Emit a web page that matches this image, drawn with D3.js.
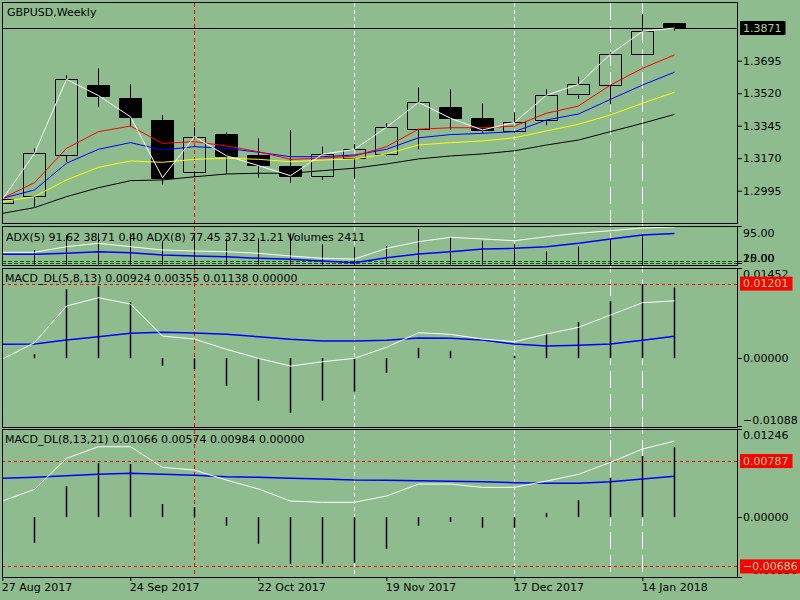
<!DOCTYPE html>
<html>
<head>
<meta charset="utf-8">
<script src="https://cdn.jsdelivr.net/npm/d3@7"></script>
<style>
  body { margin: 0; background: #8fbc8f; }
  svg { display: block; font-family: "DejaVu Sans", sans-serif; font-size: 11px; }
</style>
</head>
<body>
<div class="diagram"></div>
<script>
// weekly bars, GBPUSD
const weeks = ["2017-08-27","2017-09-03","2017-09-10","2017-09-17","2017-09-24","2017-10-01",
  "2017-10-08","2017-10-15","2017-10-22","2017-10-29","2017-11-05","2017-11-12","2017-11-19",
  "2017-11-26","2017-12-03","2017-12-10","2017-12-17","2017-12-24","2017-12-31","2018-01-07",
  "2018-01-14","2018-01-21"];
const openP  = [1.2927,1.2963,1.3186,1.3564,1.3493,1.3376,1.3097,1.3300,1.3186,1.3128,1.3070,
  1.3167,1.3191,1.3326,1.3444,1.3385,1.3315,1.3376,1.3514,1.3563,1.3731,1.3896];
const highP  = [1.2959,1.3223,1.3618,1.3654,1.3570,1.3403,1.3336,1.3309,1.3277,1.3322,1.3232,
  1.3246,1.3358,1.3552,1.3541,1.3466,1.3417,1.3541,1.3609,1.3743,1.3946,1.3896];
const lowP   = [1.2923,1.2909,1.3151,1.3447,1.3340,1.3029,1.3070,1.3085,1.3065,1.3038,1.3053,
  1.3060,1.3182,1.3218,1.3322,1.3304,1.3307,1.3347,1.3490,1.3460,1.3728,1.3857];
const closeP = [1.2949,1.3196,1.3595,1.3507,1.3393,1.3065,1.3286,1.3183,1.3130,1.3076,1.3191,
  1.3218,1.3336,1.3471,1.3385,1.3322,1.3363,1.3509,1.3568,1.3731,1.3853,1.3871];

// moving averages
const maRed    = [1.2954,1.3038,1.3223,1.3313,1.3343,1.3250,1.3259,1.3236,1.3205,1.3164,1.3170,
  1.3182,1.3232,1.3326,1.3334,1.3334,1.3343,1.3412,1.3451,1.3564,1.3654,1.3726];
const maBlue   = [1.2954,1.2999,1.3143,1.3218,1.3254,1.3214,1.3232,1.3223,1.3202,1.3178,1.3178,
  1.3187,1.3218,1.3280,1.3297,1.3304,1.3313,1.3376,1.3408,1.3487,1.3564,1.3633];
const maYellow = [1.2936,1.2963,1.3053,1.3121,1.3155,1.3148,1.3164,1.3170,1.3164,1.3151,1.3160,
  1.3166,1.3193,1.3241,1.3254,1.3263,1.3280,1.3317,1.3353,1.3403,1.3466,1.3525];
const maBlack  = [1.2873,1.2904,1.2963,1.3011,1.3049,1.3053,1.3070,1.3085,1.3089,1.3089,1.3103,
  1.3116,1.3139,1.3166,1.3182,1.3193,1.3210,1.3241,1.3268,1.3313,1.3358,1.3406];

// ADX / volumes panel
const volumes = [12000,15800,31500,33600,33300,25500,33600,28000,28000,33300,22100,18600,20000,
  37800,29700,25500,22100,14700,20000,28000,32300,2411];
const adx5 = [37.7,37.7,49.6,56.8,49.6,42.6,40.4,38.9,35.5,29.8,24.9,23.4,46.0,60.2,69.6,66.0,
  62.3,70.9,78.1,83.6,89.4,91.62];
const adx8 = [33.4,33.4,35.5,38.9,36.8,31.9,29.8,28.3,24.9,22.8,19.1,15.5,26.0,34.0,38.9,44.7,
  46.2,49.6,56.8,66.0,74.5,77.45];
const adxLevels = [20, 15];
const adxTicks = [95, 20, 15];

// MACD_DL(5,8,13)
const macd1Main   = [-0.00011,0.00251,0.00841,0.00974,0.00873,0.00358,0.00310,0.00145,0.00000,
  -0.00124,-0.00055,0.00000,0.00177,0.00411,0.00386,0.00310,0.00267,0.00391,0.00498,0.00696,0.00894,0.00924];
const macd1Signal = [0.00225,0.00230,0.00294,0.00347,0.00402,0.00418,0.00407,0.00386,0.00347,
  0.00305,0.00278,0.00278,0.00289,0.00326,0.00321,0.00294,0.00230,0.00198,0.00209,0.00230,0.00289,0.00355];
const macd1Hist   = [0.00000,0.00064,0.01109,0.01167,0.00900,-0.00124,-0.00172,-0.00440,-0.00681,
  -0.00874,-0.00681,-0.00537,-0.00231,0.00170,0.00122,0.00000,0.00040,0.00391,0.00583,0.00921,0.01194,0.01138];
const macd1Levels = [0.01201];
const macd1Ticks = [0.01452, 0, -0.01088];

// MACD_DL(8,13,21)
const macd2Main   = [0.00228,0.00391,0.00825,0.00987,0.00987,0.00699,0.00661,0.00521,0.00396,
  0.00228,0.00210,0.00210,0.00298,0.00465,0.00465,0.00419,0.00419,0.00507,0.00601,0.00769,0.00955,0.01066];
const macd2Signal = [0.00545,0.00559,0.00581,0.00601,0.00615,0.00601,0.00587,0.00568,0.00559,
  0.00545,0.00535,0.00521,0.00517,0.00512,0.00503,0.00498,0.00484,0.00475,0.00475,0.00498,0.00535,0.00574];
const macd2Hist   = [0.00000,-0.00355,0.00438,0.00763,0.00745,0.00186,0.00140,-0.00117,-0.00369,
  -0.00649,-0.00649,-0.00635,-0.00443,-0.00117,-0.00062,-0.00145,-0.00145,0.00064,0.00242,0.00554,0.00857,0.00984];
const macd2Levels = [0.00787, -0.00686];
const macd2Ticks = [0.01246, 0, -0.00830];

const priceTicks = [1.2995, 1.3170, 1.3345, 1.3520, 1.3695];
const dateTicks = ["2017-08-27","2017-09-24","2017-10-22","2017-11-19","2017-12-17","2018-01-14"];
const redVLines = ["2017-10-08"];
const whiteShortVLines = ["2017-11-12","2017-12-17"];
const whiteLongVLines = ["2018-01-07","2018-01-14"];

const adxTitle = "ADX(5) 91.62 38.71 0.40 ADX(8) 77.45 37.32 1.21 Volumes 2411";

const BG = "#8fbc8f", LABEL_TXT = "#a6d6a0";
const left = 2, right = 737;
const panels = {
  main:  {top: 2,     bottom: 223},
  adx:   {top: 226,   bottom: 265},
  macd1: {top: 267.5, bottom: 426.5},
  macd2: {top: 428.5, bottom: 576.5}
};

const parseTime = d3.timeParse("%Y-%m-%d");
const dates = weeks.map(parseTime);
const idx = d3.range(dates.length);
const f5 = d3.format(".5f");

const svg = d3.select(".diagram")
  .append("svg")
    .attr("width", 800)
    .attr("height", 600);

svg.append("rect").attr("width", 800).attr("height", 600).attr("fill", BG);

// X scale: one week = 32px
const x = d3.scaleTime()
  .domain([dates[0], dates[dates.length - 1]])
  .range([2.3, 674.3]);
const cx = i => Math.round(x(dates[i])) + 0.5;

// Y scales
const y = d3.scaleLinear().domain([1.2995, 1.3695]).range([190.7, 60.7]);
const yAdx = d3.scaleLinear().domain([0, 100]).range([270, 223]);
const yVol = d3.scaleLinear().domain([0, 41000]).range([265, 226]);
const yM1 = d3.scaleLinear().domain([-0.01088, 0.01452]).range([426, 268]);
const yM2 = d3.scaleLinear().domain([-0.0083, 0.01246]).range([576.7, 428.2]);

// vertical separators, through all panels
function vlines(list, color, dash) {
  svg.append("g").selectAll("line")
    .data(list.map(parseTime))
    .join("line")
      .attr("x1", d => Math.round(x(d)) + 0.5)
      .attr("x2", d => Math.round(x(d)) + 0.5)
      .attr("y1", 3).attr("y2", 577)
      .attr("stroke", color)
      .attr("stroke-dasharray", dash);
}
vlines(redVLines, "#ff0000", "4,3");
vlines(whiteShortVLines, "#ffffff", "4,3");
vlines(whiteLongVLines, "#ffffff", "17,6");

// panel frames and clip areas
Object.entries(panels).forEach(([name, p]) => {
  svg.append("defs").append("clipPath")
    .attr("id", "clip-" + name)
    .append("rect")
      .attr("x", left + 1).attr("y", p.top + 1)
      .attr("width", right - left - 1).attr("height", p.bottom - p.top - 1);
  svg.append("rect")
    .attr("x", left + 0.5).attr("y", Math.round(p.top) + 0.5)
    .attr("width", right - left).attr("height", Math.round(p.bottom - p.top))
    .attr("fill", "none").attr("stroke", "black");
});

function plotArea(name) {
  return svg.append("g").attr("clip-path", "url(#clip-" + name + ")");
}

function drawLine(g, data, scale, color, width) {
  g.append("path")
    .datum(idx)
    .attr("fill", "none")
    .attr("stroke", color)
    .attr("stroke-width", width)
    .attr("d", d3.line().x(i => cx(i)).y(i => scale(data[i])));
}

function hLevels(g, levels, scale, color, dash) {
  g.selectAll(null)
    .data(levels)
    .join("line")
      .attr("x1", left).attr("x2", right)
      .attr("y1", d => Math.round(scale(d)) + 0.5)
      .attr("y2", d => Math.round(scale(d)) + 0.5)
      .attr("stroke", color)
      .attr("stroke-dasharray", dash);
}

function title(text, top, cy) {
  svg.append("text")
    .attr("x", top).attr("y", cy).attr("dy", "0.35em")
    .attr("fill", "black")
    .text(text);
}

// right side scale with labels kept inside the panel
function sideAxis(ticks, scale, p, fmt) {
  const g = svg.append("g");
  g.selectAll("line")
    .data(ticks)
    .join("line")
      .attr("x1", right).attr("x2", right + 5)
      .attr("y1", d => Math.round(Math.min(Math.max(scale(d), p.top), p.bottom)) + 0.5)
      .attr("y2", d => Math.round(Math.min(Math.max(scale(d), p.top), p.bottom)) + 0.5)
      .attr("stroke", "black");
  g.selectAll("text")
    .data(ticks)
    .join("text")
      .attr("x", right + 6)
      .attr("y", d => Math.max(p.top + 7, Math.min(p.bottom - 6.5, scale(d))))
      .attr("dy", "0.35em")
      .attr("fill", "black")
      .text(fmt);
}

function valueLabel(v, scale, fill, fmt) {
  const g = svg.append("g");
  const t = g.append("text")
    .attr("x", right + 6)
    .attr("y", scale(v)).attr("dy", "0.35em")
    .attr("fill", LABEL_TXT)
    .text(fmt(v));
  const w = t.node().getBBox().width;
  g.insert("rect", "text")
    .attr("x", right + 3).attr("y", scale(v) - 7)
    .attr("width", w + 7).attr("height", 14)
    .attr("fill", fill);
}

// ---------- main price panel ----------
const main = plotArea("main");

// current price line
main.append("line")
  .attr("x1", left).attr("x2", right)
  .attr("y1", Math.round(y(closeP[closeP.length - 1])) + 0.5)
  .attr("y2", Math.round(y(closeP[closeP.length - 1])) + 0.5)
  .attr("stroke", "black");

// candles
const candle = main.append("g").selectAll("g")
  .data(idx)
  .join("g");
candle.append("line")
  .attr("x1", cx).attr("x2", cx)
  .attr("y1", i => y(highP[i]))
  .attr("y2", i => y(Math.max(openP[i], closeP[i])))
  .attr("stroke", "black");
candle.append("line")
  .attr("x1", cx).attr("x2", cx)
  .attr("y1", i => y(Math.min(openP[i], closeP[i])))
  .attr("y2", i => y(lowP[i]))
  .attr("stroke", "black");
candle.append("rect")
  .attr("x", i => cx(i) - 11)
  .attr("y", i => Math.round(y(Math.max(openP[i], closeP[i]))) + 0.5)
  .attr("width", 22)
  .attr("height", i => Math.max(1, Math.round(Math.abs(y(openP[i]) - y(closeP[i])))))
  .attr("fill", i => closeP[i] >= openP[i] ? "none" : "black")
  .attr("stroke", "black");

drawLine(main, maBlack, y, "black", 1);
drawLine(main, maYellow, y, "#ffff00", 1);
drawLine(main, maBlue, y, "#0000ff", 1);
drawLine(main, maRed, y, "#ff0000", 1);
drawLine(main, closeP, y, "#ffffff", 1);

title("GBPUSD,Weekly", 7, 12);

const yAxis = svg.append("g")
  .attr("transform", `translate(${right}, 0)`)
  .call(d3.axisRight(y).tickValues(priceTicks).tickFormat(d3.format(".4f"))
    .tickSize(5).tickSizeOuter(0).tickPadding(1));
yAxis.select(".domain").remove();
yAxis.attr("font-family", null).attr("font-size", null);
yAxis.selectAll("text").attr("fill", "black");
yAxis.selectAll("line").attr("stroke", "black");

valueLabel(closeP[closeP.length - 1], y, "black", d3.format(".4f"));

// ---------- ADX / volumes panel ----------
const adxG = plotArea("adx");
hLevels(adxG, adxLevels, yAdx, "#006400", "4,2");
adxG.append("g").selectAll("line")
  .data(idx)
  .join("line")
    .attr("x1", cx).attr("x2", cx)
    .attr("y1", yVol(0))
    .attr("y2", i => yVol(volumes[i]))
    .attr("stroke", "black");
drawLine(adxG, adx5, yAdx, "#ffffff", 1);
drawLine(adxG, adx8, yAdx, "#0000ff", 1.5);
title(adxTitle, 6, 236.7);
sideAxis(adxTicks, yAdx, panels.adx, d3.format(".2f"));

// ---------- MACD 1 ----------
const m1 = plotArea("macd1");
hLevels(m1, macd1Levels, yM1, "#ff0000", "3,3");
m1.append("g").selectAll("line")
  .data(idx)
  .join("line")
    .attr("x1", cx).attr("x2", cx)
    .attr("y1", yM1(0))
    .attr("y2", i => yM1(macd1Hist[i]))
    .attr("stroke", "black").attr("stroke-width", 1.5);
drawLine(m1, macd1Signal, yM1, "#0000ff", 1.5);
drawLine(m1, macd1Main, yM1, "#ffffff", 1);
const n = idx.length - 1;
title(`MACD_DL(5,8,13) ${f5(macd1Main[n])} ${f5(macd1Signal[n])} ${f5(macd1Hist[n])} 0.00000`, 5, 277.7);
sideAxis(macd1Ticks, yM1, panels.macd1, f5);
macd1Levels.forEach(v => valueLabel(v, yM1, "#ff0000", f5));

// ---------- MACD 2 ----------
const m2 = plotArea("macd2");
hLevels(m2, macd2Levels, yM2, "#ff0000", "3,3");
m2.append("g").selectAll("line")
  .data(idx)
  .join("line")
    .attr("x1", cx).attr("x2", cx)
    .attr("y1", yM2(0))
    .attr("y2", i => yM2(macd2Hist[i]))
    .attr("stroke", "black").attr("stroke-width", 1.5);
drawLine(m2, macd2Signal, yM2, "#0000ff", 1.5);
drawLine(m2, macd2Main, yM2, "#ffffff", 1);
title(`MACD_DL(8,13,21) ${f5(macd2Main[n])} ${f5(macd2Signal[n])} ${f5(macd2Hist[n])} 0.00000`, 5, 439.3);
sideAxis(macd2Ticks, yM2, panels.macd2, f5);
macd2Levels.forEach(v => valueLabel(v, yM2, "#ff0000", f5));

// ---------- time axis ----------
const xAxis = svg.append("g")
  .attr("transform", `translate(0, 577)`)
  .call(d3.axisBottom(x).tickValues(dateTicks.map(parseTime))
    .tickFormat(d3.timeFormat("%d %b %Y")).tickSize(4).tickSizeOuter(0));
xAxis.select(".domain").remove();
xAxis.attr("font-family", null).attr("font-size", null);
xAxis.selectAll("line").attr("stroke", "black");
xAxis.selectAll("text")
  .attr("fill", "black")
  .attr("text-anchor", "start")
  .attr("x", -1)
  .attr("y", 6)
  .attr("dy", "0.71em");
</script>
</body>
</html>
